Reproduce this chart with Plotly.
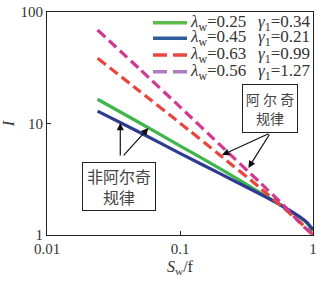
import plotly.graph_objects as go

x_vals = [0.024, 0.05, 0.1, 0.2, 0.4, 0.6, 0.8, 0.9, 1.0]
green_I = [16.5, 10.1, 6.3, 3.94, 2.4, 1.78, 1.43, 1.28, 1.08]
blue_I = [12.9, 8.3, 5.4, 3.55, 2.33, 1.8, 1.45, 1.3, 1.12]
red_I = [38.4, 19.4, 10.1, 5.2, 2.65, 1.75, 1.3, 1.14, 1.0]
magenta_I = [69.0, 30.6, 14.1, 6.43, 2.95, 1.85, 1.28, 1.12, 1.0]

lambda_w = ["0.25", "0.45", "0.63", "0.56"]
gamma_1 = ["0.34", "0.21", "0.99", "1.27"]
series = [green_I, blue_I, red_I, magenta_I]
colors = ["#3fb54c", "#2e3b92", "#e8453c", "#d2388f"]
legend_colors = ["#5dbb4a", "#2f5c9c", "#e8483f", "#b07cc4"]
dashes = ["solid", "solid", "10px,5px", "10px,5px"]
legend_dashes = ["solid", "solid", "14px,6px", "14px,6px"]

fig = go.Figure()
for lw, g1, ys, c, d in zip(lambda_w, gamma_1, series, colors, dashes):
    fig.add_trace(go.Scatter(
        x=x_vals, y=ys, mode="lines", showlegend=False,
        name=f"λw={lw} γ1={g1}",
        line=dict(color=c, width=3.2, dash=d, shape="spline", smoothing=0.5)))

serif = "Liberation Serif"
fig.update_layout(
    width=323, height=284,
    margin=dict(l=47, r=10, t=12, b=49, autoexpand=False),
    paper_bgcolor="white", plot_bgcolor="white",
    font=dict(family=serif, size=15, color="#222"),
    showlegend=False,
    xaxis=dict(type="log", range=[-2, 0], tickvals=[0.01, 0.1, 1], ticktext=["0.01", "0.1", "1"],
               ticks="inside", ticklen=4, tickcolor="#222", showline=True, linecolor="#222",
               linewidth=1, mirror=True, showgrid=False, zeroline=False, automargin=False,
               tickfont=dict(family=serif, size=15, color="#333"),
               title=dict(text="<i>S</i><sub>w</sub>/f", standoff=4,
                          font=dict(family=serif, size=16, color="#333"))),
    yaxis=dict(type="log", range=[0, 2], tickvals=[1, 10, 100], ticktext=["1", "10", "100"],
               ticks="inside", ticklen=4, tickcolor="#222", showline=True, linecolor="#222",
               linewidth=1, mirror=True, showgrid=False, zeroline=False, automargin=False,
               tickfont=dict(family=serif, size=15, color="#333"),
               title=dict(text="<i>I</i>", standoff=10,
                          font=dict(family=serif, size=16, color="#333"))),
)

def px_x(p):
    return (p - 47) / 266.0

def px_y(p):
    return (235 - p) / 223.0

# manual legend
rows = [22.7, 38.3, 55.0, 71.7]
for lw, g1, c, d, ry in zip(lambda_w, gamma_1, legend_colors, legend_dashes, rows):
    fig.add_shape(type="line", xref="paper", yref="paper",
                  x0=px_x(153), x1=px_x(187), y0=px_y(ry), y1=px_y(ry),
                  line=dict(color=c, width=3.5, dash=d))
    fig.add_annotation(xref="paper", yref="paper", x=px_x(188), y=px_y(ry),
                       xanchor="left", yanchor="middle", showarrow=False,
                       text=f"<i>λ</i><sub>w</sub>={lw}",
                       font=dict(family=serif, size=17, color="#333"))
    fig.add_annotation(xref="paper", yref="paper", x=px_x(256), y=px_y(ry),
                       xanchor="left", yanchor="middle", showarrow=False,
                       text=f"<i>γ</i><sub>1</sub>={g1}",
                       font=dict(family=serif, size=17, color="#333"))

cjk = "Noto Sans CJK SC"
fig.add_annotation(xref="paper", yref="paper", x=px_x(270), y=px_y(108.5),
                   xanchor="center", yanchor="middle", width=54, height=47,
                   text="阿 尔 奇<br>规律", showarrow=False, bordercolor="#222", borderwidth=1,
                   borderpad=0, bgcolor="white", font=dict(family=cjk, size=14, color="#444"))
fig.add_annotation(xref="paper", yref="paper", x=px_x(119), y=px_y(186.5),
                   xanchor="center", yanchor="middle", width=72, height=47,
                   text="非阿尔奇<br>规律", showarrow=False, bordercolor="#222", borderwidth=1,
                   borderpad=0, bgcolor="white", font=dict(family=cjk, size=16, color="#444"))

arrows = [
    (-0.684, 0.717, 48, -22),
    (-0.486, 0.601, 22, -35),
    (-1.449, 1.004, 0, 34),
    (-1.238, 0.960, -26, 29),
]
for ax_, ay_, dx, dy in arrows:
    fig.add_annotation(x=ax_, y=ay_, xref="x", yref="y", text="", showarrow=True,
                       ax=dx, ay=dy, arrowhead=2, arrowsize=1.2, arrowwidth=1.2,
                       arrowcolor="#111")

fig.write_html("out.html", config={"displayModeBar": False},
               post_script="document.body.style.margin='0';")
